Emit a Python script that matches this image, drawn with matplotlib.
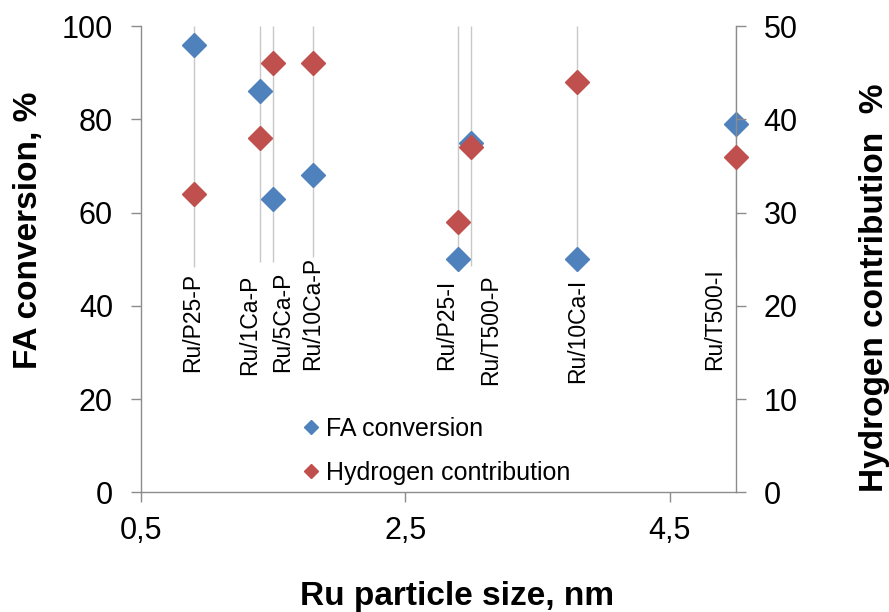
import matplotlib
matplotlib.use("Agg")
import matplotlib.pyplot as plt
from matplotlib.lines import Line2D

plt.rcParams['font.family'] = ['Liberation Sans', 'DejaVu Sans']

# ---- data ----
samples = ['Ru/P25-P', 'Ru/1Ca-P', 'Ru/5Ca-P', 'Ru/10Ca-P',
           'Ru/P25-I', 'Ru/T500-P', 'Ru/10Ca-I', 'Ru/T500-I']
particle_size = [0.9, 1.4, 1.5, 1.8, 2.9, 3.0, 3.8, 5.0]
fa_conversion = [96, 86, 63, 68, 50, 75, 50, 79]
h2_contribution = [32, 38, 46, 46, 29, 37, 44, 36]

x_ticks = [0.5, 2.5, 4.5]
x_tick_labels = ['0,5', '2,5', '4,5']
y_left_ticks = [0, 20, 40, 60, 80, 100]
y_right_ticks = [0, 10, 20, 30, 40, 50]

# ---- layout (label placement, not data) ----
label_dx_px = [-1, -10, 10, 0, -11, 19, 1, -21]
label_bottom = [25.8, 25.2, 25.8, 26.2, 26.2, 23.0, 23.4, 26.2]
line_bottom = [48.3, 49.4, 49.4, 50.4, 50.0, 48.5, 50.0, 50.0]

BLUE = '#4F81BD'
RED = '#C0504D'
GRAY = '#8C8C8C'

fig = plt.figure(figsize=(8.89, 6.12), dpi=100)
ax = fig.add_axes([140.7/889, 1-492.3/612, (735.7-140.7)/889, (492.3-26)/612])
ax2 = ax.twinx()

ax.set_xlim(0.5, 5.0)
ax.set_ylim(0, 100)
ax2.set_ylim(0, 50)

# drop lines
ax.vlines(particle_size, line_bottom, 100, colors='#C8C8C8', linewidth=1.0, zorder=1)

ax.plot(particle_size, fa_conversion, linestyle='none', marker='D', markersize=12.5,
        color=BLUE, markeredgecolor=BLUE, zorder=3, clip_on=False)
ax2.plot(particle_size, h2_contribution, linestyle='none', marker='D', markersize=12.5,
         color=RED, markeredgecolor=RED, zorder=3, clip_on=False)

for name, x, dx, yb in zip(samples, particle_size, label_dx_px, label_bottom):
    ax.annotate(name, xy=(x, yb), xytext=(dx, 0), textcoords='offset pixels',
                rotation=90, ha='center', va='bottom', fontsize=16.5, color='black')

# axes styling
for a in (ax, ax2):
    a.spines['top'].set_visible(False)
    for s in ('left', 'right', 'bottom'):
        a.spines[s].set_color(GRAY)
        a.spines[s].set_linewidth(1.0)
ax.spines['right'].set_visible(False)
ax2.spines['left'].set_visible(False)
ax2.spines['bottom'].set_visible(False)

ax.set_xticks(x_ticks)
ax.set_xticklabels(x_tick_labels)
ax.set_yticks(y_left_ticks)
ax2.set_yticks(y_right_ticks)
ax.tick_params(axis='x', direction='out', length=7, width=1, color=GRAY, pad=10, labelsize=22)
ax.tick_params(axis='y', direction='out', length=7, width=1, color=GRAY, pad=13, labelsize=22)
ax2.tick_params(axis='y', direction='out', length=7, width=1, color=GRAY, pad=13, labelsize=22)

# axis titles
fig.text(29/889, 1-230/612, 'FA conversion, %', rotation=90, ha='center', va='center',
         fontsize=24, fontweight='bold')
fig.text(875/889, 1-288/612, 'Hydrogen contribution  %', rotation=90, ha='center', va='center',
         fontsize=24, fontweight='bold')
fig.text(457/889, 1-596/612, 'Ru particle size, nm', ha='center', va='center',
         fontsize=24, fontweight='bold')

handles = [Line2D([], [], linestyle='none', marker='D', markersize=7, color=BLUE),
           Line2D([], [], linestyle='none', marker='D', markersize=7, color=RED)]
fig.legend(handles, ['FA conversion', 'Hydrogen contribution'], loc='center left',
           bbox_to_anchor=(301/889, 1-451/612), bbox_transform=fig.transFigure,
           frameon=False, fontsize=18, handlelength=0.8, handletextpad=0.2,
           labelspacing=0.8, borderpad=0, borderaxespad=0)

fig.savefig('out.png', dpi=100)
